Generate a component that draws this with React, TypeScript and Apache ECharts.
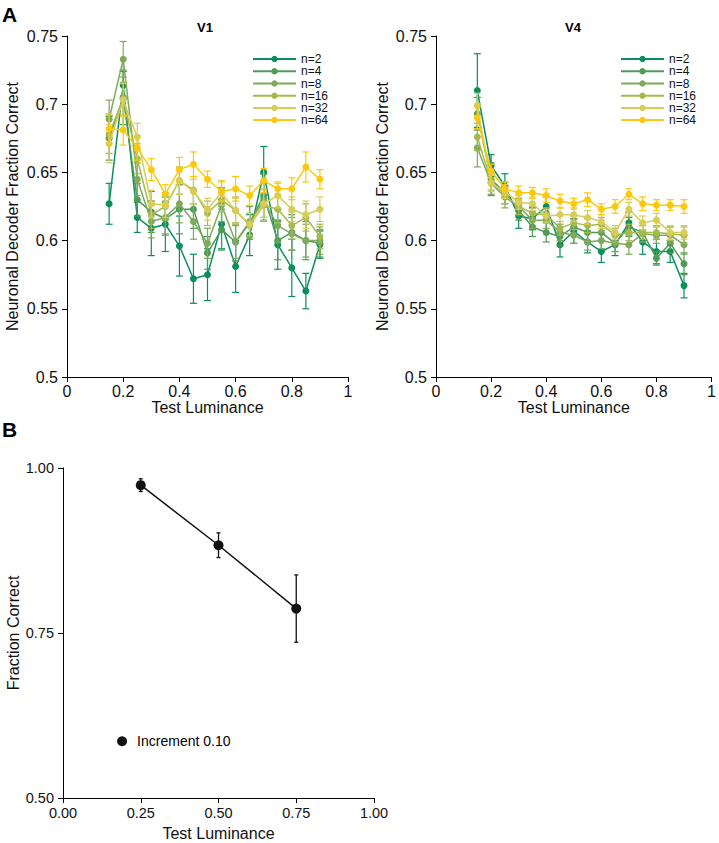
import React, { useEffect, useRef } from "react";
import * as echarts from "echarts";

const luminance = [0.15, 0.2, 0.25, 0.3, 0.35, 0.4, 0.45, 0.5, 0.55, 0.6, 0.65, 0.7, 0.75, 0.8, 0.85, 0.9];
const groupNames = ["n=2", "n=4", "n=8", "n=16", "n=32", "n=64"];
const groupColors = ["#0a8f5c", "#4f9b56", "#7fa95c", "#a6b94e", "#d8cd57", "#fcc80c"];

// V1 means
const v1N2 = [0.627, 0.714, 0.617, 0.609, 0.612, 0.596, 0.572, 0.575, 0.612, 0.581, 0.604, 0.650, 0.597, 0.580, 0.563, 0.597];
const v1N4 = [0.675, 0.705, 0.630, 0.621, 0.616, 0.623, 0.623, 0.591, 0.608, 0.599, 0.613, 0.633, 0.600, 0.606, 0.600, 0.598];
const v1N8 = [0.689, 0.733, 0.645, 0.614, 0.617, 0.627, 0.614, 0.598, 0.626, 0.599, 0.614, 0.629, 0.611, 0.605, 0.600, 0.600];
const v1N16 = [0.678, 0.704, 0.660, 0.619, 0.625, 0.644, 0.637, 0.620, 0.630, 0.622, 0.611, 0.626, 0.623, 0.611, 0.617, 0.603];
const v1N32 = [0.671, 0.703, 0.676, 0.627, 0.626, 0.644, 0.636, 0.623, 0.635, 0.622, 0.612, 0.627, 0.633, 0.623, 0.619, 0.623];
const v1N64 = [0.682, 0.681, 0.668, 0.652, 0.634, 0.652, 0.656, 0.645, 0.636, 0.638, 0.633, 0.644, 0.638, 0.638, 0.654, 0.645];
// V1 errors (half-length of bars)
const v1N2Err = [0.015, 0.010, 0.011, 0.020, 0.020, 0.022, 0.018, 0.019, 0.018, 0.019, 0.015, 0.019, 0.018, 0.021, 0.013, 0.010];
const v1N4Err = [0.016, 0.020, 0.012, 0.015, 0.012, 0.018, 0.014, 0.012, 0.015, 0.014, 0.012, 0.016, 0.014, 0.013, 0.014, 0.010];
const v1N8Err = [0.014, 0.013, 0.012, 0.012, 0.012, 0.014, 0.013, 0.011, 0.012, 0.012, 0.011, 0.014, 0.012, 0.012, 0.012, 0.010];
const v1N16Err = [0.014, 0.012, 0.011, 0.010, 0.010, 0.010, 0.010, 0.009, 0.009, 0.010, 0.009, 0.012, 0.010, 0.010, 0.010, 0.009];
const v1N32Err = [0.014, 0.012, 0.010, 0.010, 0.009, 0.010, 0.009, 0.008, 0.009, 0.009, 0.008, 0.010, 0.009, 0.009, 0.010, 0.009];
const v1N64Err = [0.011, 0.011, 0.009, 0.008, 0.007, 0.009, 0.009, 0.006, 0.007, 0.009, 0.007, 0.009, 0.005, 0.008, 0.011, 0.007];

// V4 means
const v4N2 = [0.710, 0.655, 0.640, 0.618, 0.616, 0.625, 0.597, 0.607, 0.599, 0.592, 0.597, 0.613, 0.599, 0.592, 0.592, 0.567];
const v4N4 = [0.693, 0.645, 0.635, 0.622, 0.610, 0.606, 0.603, 0.610, 0.606, 0.606, 0.598, 0.610, 0.606, 0.587, 0.598, 0.583];
const v4N8 = [0.668, 0.642, 0.632, 0.625, 0.615, 0.615, 0.606, 0.604, 0.599, 0.600, 0.598, 0.597, 0.605, 0.604, 0.604, 0.597];
const v4N16 = [0.676, 0.643, 0.633, 0.625, 0.620, 0.619, 0.609, 0.613, 0.611, 0.612, 0.604, 0.606, 0.606, 0.606, 0.605, 0.604];
const v4N32 = [0.699, 0.642, 0.636, 0.628, 0.627, 0.618, 0.619, 0.619, 0.617, 0.614, 0.606, 0.623, 0.613, 0.615, 0.606, 0.606];
const v4N64 = [0.690, 0.651, 0.638, 0.635, 0.635, 0.633, 0.629, 0.627, 0.630, 0.623, 0.625, 0.634, 0.627, 0.626, 0.626, 0.625];
// V4 errors
const v4N2Err = [0.027, 0.008, 0.009, 0.009, 0.008, 0.007, 0.009, 0.009, 0.008, 0.008, 0.008, 0.008, 0.009, 0.009, 0.008, 0.009];
const v4N4Err = [0.012, 0.012, 0.008, 0.007, 0.007, 0.007, 0.007, 0.006, 0.006, 0.006, 0.006, 0.007, 0.007, 0.005, 0.007, 0.008];
const v4N8Err = [0.014, 0.008, 0.008, 0.006, 0.006, 0.006, 0.006, 0.006, 0.006, 0.006, 0.006, 0.007, 0.006, 0.006, 0.006, 0.007];
const v4N16Err = [0.010, 0.006, 0.006, 0.006, 0.005, 0.005, 0.005, 0.005, 0.005, 0.005, 0.005, 0.006, 0.005, 0.005, 0.005, 0.006];
const v4N32Err = [0.009, 0.006, 0.005, 0.005, 0.005, 0.005, 0.005, 0.005, 0.005, 0.005, 0.005, 0.005, 0.005, 0.005, 0.005, 0.005];
const v4N64Err = [0.008, 0.005, 0.005, 0.005, 0.004, 0.005, 0.005, 0.004, 0.005, 0.004, 0.005, 0.004, 0.005, 0.004, 0.004, 0.005];

// Panel B
const bLuminance = [0.25, 0.5, 0.75];
const bFractionCorrect = [0.974, 0.883, 0.787];
const bErr = [0.0096, 0.0187, 0.051];
const bLegendName = "Increment 0.10";
const bLegendPoint = [0.19, 0.586];

const v1Means = [v1N2, v1N4, v1N8, v1N16, v1N32, v1N64];
const v1Errs = [v1N2Err, v1N4Err, v1N8Err, v1N16Err, v1N32Err, v1N64Err];
const v4Means = [v4N2, v4N4, v4N8, v4N16, v4N32, v4N64];
const v4Errs = [v4N2Err, v4N4Err, v4N8Err, v4N16Err, v4N32Err, v4N64Err];

const FONT = "'Liberation Sans', Arial, Helvetica, sans-serif";

function errorBars(name: string, idx: number, xs: number[], ys: number[], errs: number[], color: string, capHalf: number, lw: number, z: number) {
  return {
    type: "custom",
    name,
    xAxisIndex: idx,
    yAxisIndex: idx,
    z,
    silent: true,
    data: xs.map((x, i) => [x, ys[i] - errs[i], ys[i] + errs[i]]),
    encode: { x: 0, y: [1, 2] },
    renderItem: (params: any, api: any) => {
      const lo = api.coord([api.value(0), api.value(1)]);
      const hi = api.coord([api.value(0), api.value(2)]);
      const style = { stroke: color, lineWidth: lw, fill: "none" };
      return {
        type: "group",
        children: [
          { type: "line", shape: { x1: lo[0], y1: lo[1], x2: hi[0], y2: hi[1] }, style },
          { type: "line", shape: { x1: lo[0] - capHalf, y1: lo[1], x2: lo[0] + capHalf, y2: lo[1] }, style },
          { type: "line", shape: { x1: hi[0] - capHalf, y1: hi[1], x2: hi[0] + capHalf, y2: hi[1] }, style },
        ],
      };
    },
  };
}

function axisCommon(fontSize: number, margin: number) {
  return {
    axisLine: { show: true, lineStyle: { color: "#000", width: 1 } },
    axisTick: { show: true, inside: false, length: 5, lineStyle: { color: "#000" } },
    axisLabel: { color: "#111", fontSize, fontFamily: FONT, margin },
    splitLine: { show: false },
    nameTextStyle: { color: "#111", fontSize: 16, fontFamily: FONT },
  };
}

export default function App() {
  const ref = useRef<HTMLDivElement>(null);
  useEffect(() => {
    if (!ref.current) return;
    const chart = echarts.init(ref.current, null, { renderer: "svg" });

    const series: any[] = [];
    [v1Means, v4Means].forEach((means, panel) => {
      const errs = panel === 0 ? v1Errs : v4Errs;
      means.forEach((ys, g) => {
        series.push(errorBars(`err${panel}-${g}`, panel, luminance, ys, errs[g], groupColors[g], 3.5, 1.2, 2 + g));
        series.push({
          type: "line",
          name: groupNames[g],
          xAxisIndex: panel,
          yAxisIndex: panel,
          data: luminance.map((x, i) => [x, ys[i]]),
          symbol: "circle",
          symbolSize: 7,
          showSymbol: true,
          z: 2 + g,
          lineStyle: { color: groupColors[g], width: 1.5 },
          itemStyle: { color: groupColors[g] },
          emphasis: { disabled: true },
        });
      });
    });
    series.push(errorBars("errB", 2, bLuminance, bFractionCorrect, bErr, "#111", 2, 1.3, 10));
    series.push({
      type: "line",
      name: "B-line",
      xAxisIndex: 2,
      yAxisIndex: 2,
      data: bLuminance.map((x, i) => [x, bFractionCorrect[i]]),
      symbol: "circle",
      symbolSize: 10,
      z: 11,
      lineStyle: { color: "#111", width: 1.5 },
      itemStyle: { color: "#111" },
      emphasis: { disabled: true },
    });
    series.push({
      type: "scatter",
      name: bLegendName,
      xAxisIndex: 2,
      yAxisIndex: 2,
      data: [bLegendPoint],
      symbol: "circle",
      symbolSize: 10,
      itemStyle: { color: "#111", opacity: 1 },
      label: {
        show: true,
        position: "right",
        distance: 10,
        formatter: bLegendName,
        color: "#000",
        opacity: 1,
        fontSize: 14,
        fontFamily: FONT,
      },
      emphasis: { disabled: true },
    });

    const legendBase = {
      orient: "vertical",
      data: groupNames,
      itemWidth: 43,
      itemHeight: 8,
      itemGap: 0,
      padding: 0,
      selectedMode: false,
      textStyle: { fontSize: 12, fontFamily: FONT, color: "#111", lineHeight: 12.2 },
    };

    chart.setOption({
      animation: false,
      backgroundColor: "#fff",
      textStyle: { fontFamily: FONT },
      grid: [
        { left: 67, top: 36, width: 281, height: 341 },
        { left: 436, top: 36, width: 278, height: 341 },
        { left: 63, top: 468, width: 311, height: 330 },
      ],
      legend: [
        { ...legendBase, left: 252, top: 53 },
        { ...legendBase, left: 620, top: 53 },
      ],
      xAxis: [0, 1].map((i) => ({
        ...axisCommon(16, 6),
        type: "value",
        gridIndex: i,
        min: 0,
        max: 1,
        interval: 0.2,
        name: "Test Luminance",
        nameLocation: "middle",
        nameGap: 22,
      })).concat([
        {
          ...axisCommon(14.5, 7),
          type: "value",
          gridIndex: 2,
          min: 0,
          max: 1,
          interval: 0.25,
          name: "Test Luminance",
          nameLocation: "middle",
          nameGap: 27,
          axisLabel: { ...axisCommon(14.5, 7).axisLabel, formatter: (v: number) => v.toFixed(2) },
        } as any,
      ]),
      yAxis: [0, 1].map((i) => ({
        ...axisCommon(16, 9),
        type: "value",
        gridIndex: i,
        min: 0.5,
        max: 0.75,
        interval: 0.05,
        name: "Neuronal Decoder Fraction Correct",
        nameLocation: "middle",
        nameGap: i === 0 ? 47 : 46,
      })).concat([
        {
          ...axisCommon(14.5, 9),
          type: "value",
          gridIndex: 2,
          min: 0.5,
          max: 1,
          interval: 0.25,
          name: "Fraction Correct",
          nameLocation: "middle",
          nameGap: 42,
          axisLabel: { ...axisCommon(14.5, 9).axisLabel, formatter: (v: number) => v.toFixed(2) },
        } as any,
      ]),
      graphic: [
        { type: "text", left: 2, top: 4, style: { text: "A", fontSize: 21, fontWeight: "bold", fontFamily: FONT, fill: "#000" } },
        { type: "text", left: 2, top: 419, style: { text: "B", fontSize: 21, fontWeight: "bold", fontFamily: FONT, fill: "#000" } },
        { type: "text", x: 205, y: 27, style: { text: "V1", fontSize: 13, fontWeight: "bold", fontFamily: FONT, fill: "#000", align: "center", verticalAlign: "middle" } },
        { type: "text", x: 573, y: 27, style: { text: "V4", fontSize: 13, fontWeight: "bold", fontFamily: FONT, fill: "#000", align: "center", verticalAlign: "middle" } },
      ],
      series,
    });
    return () => chart.dispose();
  }, []);
  return <div ref={ref} style={{ position: "absolute", left: 0, top: 0, width: 719, height: 843 }} />;
}
